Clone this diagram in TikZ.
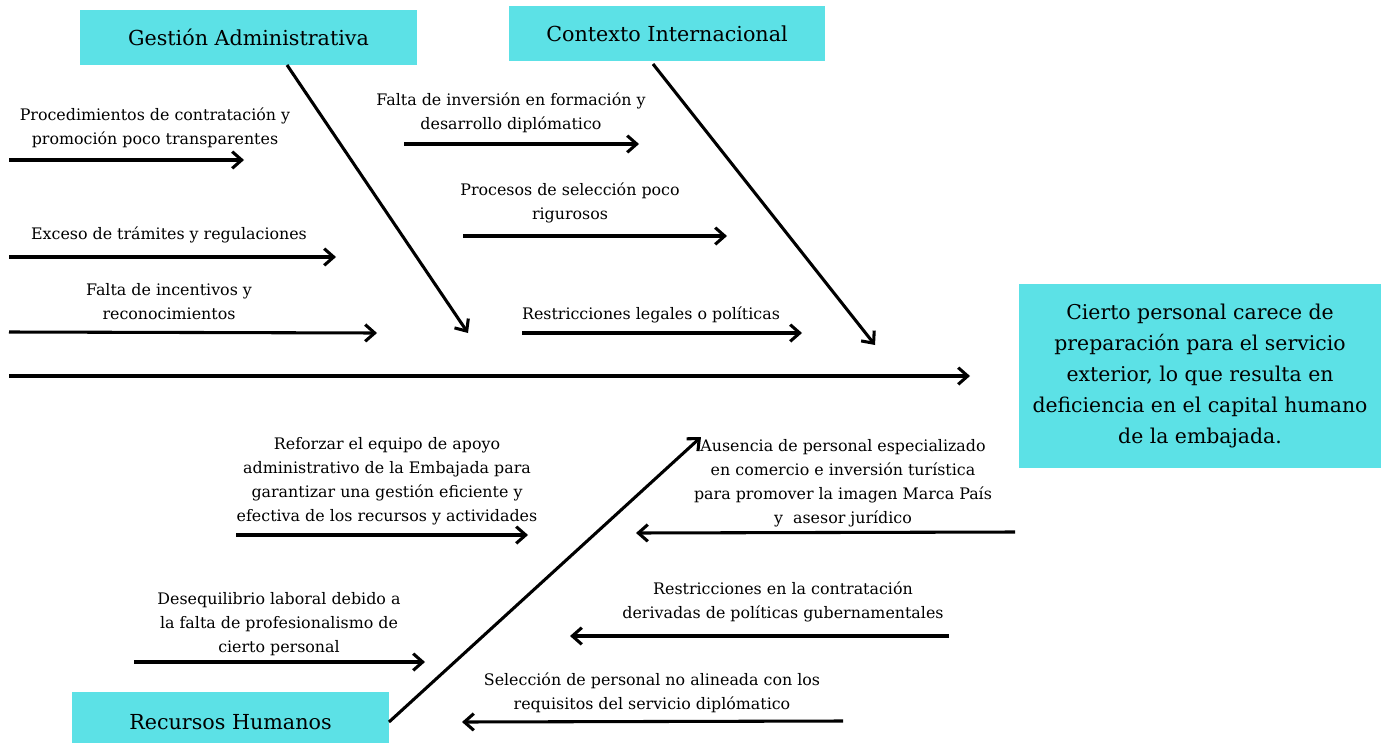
\documentclass[tikz,border=0pt]{standalone}
\usepackage{fontspec}
\setmainfont{DejaVu Serif}
\usetikzlibrary{arrows.meta}
\definecolor{cian}{HTML}{5CE1E6}

\begin{document}
\begin{tikzpicture}[x=0.75pt, y=-0.75pt,
  caja/.style={fill=cian, inner sep=0pt, align=center},
  titulo/.style={caja, minimum height=41pt, font=\fontsize{15.5}{19}\selectfont},
  texto/.style={align=center, inner sep=0pt, yshift=-1.5pt, font=\fontsize{11.9}{18}\selectfont},
  flecha/.style={line width=2.3pt, -{Straight Barb[length=2.5mm, width=4.4mm]}}]
  \useasboundingbox (0,0) rectangle (1384,742);

  % cajas
  \node[titulo, minimum width=253pt] (gestion) at (248.5,37.5) {Gestión Administrativa};
  \node[titulo, minimum width=237pt] (contexto) at (667,33.5) {Contexto Internacional};
  \node[titulo, minimum width=238pt, minimum height=45pt] (recursos) at (230.5,722) {Recursos Humanos};
  \node[caja, minimum width=271.5pt, minimum height=138pt,
    font=\fontsize{15.3}{23.2}\selectfont] (efecto) at (1200,376)
    {Cierto personal carece de\\preparación para el servicio\\exterior, lo que resulta en\\deficiencia en el capital humano\\de la embajada.};

  % espina y ramas
  \coordinate (e0) at (9,376);   \coordinate (e1) at (970,376);
  \coordinate (g0) at (287,65);  \coordinate (g1) at (468,333);
  \coordinate (c0) at (653,64);  \coordinate (c1) at (875,345);
  \coordinate (r0) at (389,722); \coordinate (r1) at (701,437);
  \draw[flecha] (e0) -- (e1);
  \draw[flecha] (g0) -- (g1);
  \draw[flecha] (c0) -- (c1);
  \draw[flecha] (r0) -- (r1);

  % causas: gestion administrativa
  \node[texto] (t1) at (155,126) {Procedimientos de contratación y\\promoción poco transparentes};
  \coordinate (a1) at (9,160);  \coordinate (b1) at (244,160);
  \node[texto] (t2) at (169,233) {Exceso de trámites y regulaciones};
  \coordinate (a2) at (9,257);  \coordinate (b2) at (336,257);
  \node[texto] (t3) at (169,300) {Falta de incentivos y\\reconocimientos};
  \coordinate (a3) at (9,332);  \coordinate (b3) at (377,333);

  % causas: contexto internacional
  \node[texto] (t4) at (511,111) {Falta de inversión en formación y\\desarrollo diplómatico};
  \coordinate (a4) at (404,144); \coordinate (b4) at (639,144);
  \node[texto] (t5) at (570,201) {Procesos de selección poco\\rigurosos};
  \coordinate (a5) at (463,236); \coordinate (b5) at (727,236);
  \node[texto] (t6) at (651,313) {Restricciones legales o políticas};
  \coordinate (a6) at (522,333); \coordinate (b6) at (802,333);

  % causas: recursos humanos
  \node[texto] (t7) at (387,479) {Reforzar el equipo de apoyo\\administrativo de la Embajada para\\garantizar una gestión eficiente y\\efectiva de los recursos y actividades};
  \coordinate (a7) at (236,535); \coordinate (b7) at (528,535);
  \node[texto] (t8) at (279,622) {Desequilibrio laboral debido a\\la falta de profesionalismo de\\cierto personal};
  \coordinate (a8) at (134,662); \coordinate (b8) at (425,662);
  \node[texto] (t9) at (843,481) {Ausencia de personal especializado\\en comercio e inversión turística\\para promover la imagen Marca País\\y\ \ asesor jurídico};
  \coordinate (a9) at (1015,532); \coordinate (b9) at (636,533);
  \node[texto] (t10) at (783,600) {Restricciones en la contratación\\derivadas de políticas gubernamentales};
  \coordinate (a10) at (949,636); \coordinate (b10) at (570,636);
  \node[texto] (t11) at (652,691) {Selección de personal no alineada con los\\requisitos del servicio diplómatico};
  \coordinate (a11) at (843,721); \coordinate (b11) at (462,722);

  \foreach \i in {1,...,11}
    \draw[flecha] (a\i) -- (b\i);
\end{tikzpicture}
\end{document}
